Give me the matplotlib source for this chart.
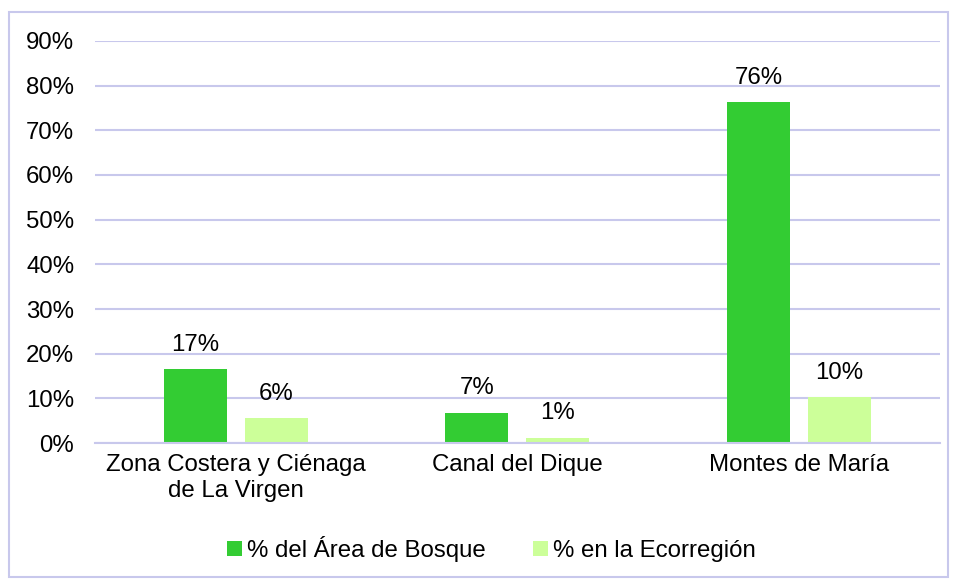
import matplotlib.pyplot as plt
import numpy as np
from matplotlib.patches import Rectangle

plt.rcParams['font.family'] = ['Liberation Sans', 'DejaVu Sans']

categorias = ["Zona Costera y Ciénaga\nde La Virgen", "Canal del Dique", "Montes de María"]
area_bosque = [0.166, 0.068, 0.763]
ecorregion = [0.055, 0.012, 0.103]
etiq_bosque = ["17%", "7%", "76%"]
etiq_eco = ["6%", "1%", "10%"]

verde = "#33CC33"
verde_claro = "#CCFF99"
lila = "#C8C8EC"

fig = plt.figure(figsize=(9.54, 5.82), dpi=100)
ax = fig.add_axes([0.0996, 0.2388, 0.8854, 0.6908])

x = np.arange(len(categorias))
w = 0.224
off = 0.144
b1 = ax.bar(x - off, area_bosque, w, color=verde, label="% del Área de Bosque")
b2 = ax.bar(x + off, ecorregion, w, color=verde_claro, label="% en la Ecorregión")

for bars, labs in [(b1, etiq_bosque), (b2, etiq_eco)]:
    for r, t in zip(bars, labs):
        ax.annotate(t, (r.get_x() + r.get_width() / 2, r.get_height()),
                    xytext=(0, 9.5), textcoords="offset points",
                    ha="center", va="bottom", fontsize=17.3)

ax.set_xlim(-0.5, 2.5)
ax.set_ylim(0, 0.9)
ax.set_yticks(np.arange(0, 0.91, 0.1))
ax.set_yticklabels([f"{int(round(v*100))}%" for v in np.arange(0, 0.91, 0.1)])
ax.set_xticks(x)
ax.set_xticklabels(categorias)
ax.tick_params(axis="y", length=0, pad=15, labelsize=17.3)
ax.tick_params(axis="x", length=0, pad=8, labelsize=17.3)
ax.grid(axis="y", color=lila, linewidth=1.5)
ax.set_axisbelow(True)
for s in ["top", "right", "left"]:
    ax.spines[s].set_visible(False)
ax.spines["bottom"].set_color(lila)
ax.spines["bottom"].set_linewidth(1.5)

fig.legend(loc="center", bbox_to_anchor=(0.515, 0.057), ncol=2, frameon=False,
           fontsize=17.3, handlelength=0.6, handleheight=0.6, handletextpad=0.2,
           columnspacing=2.0)

fig.patches.append(Rectangle((0.0094, 0.008), 0.984, 0.971, transform=fig.transFigure,
                             fill=False, edgecolor=lila, linewidth=1.5))

fig.savefig("out.png", dpi=100)
